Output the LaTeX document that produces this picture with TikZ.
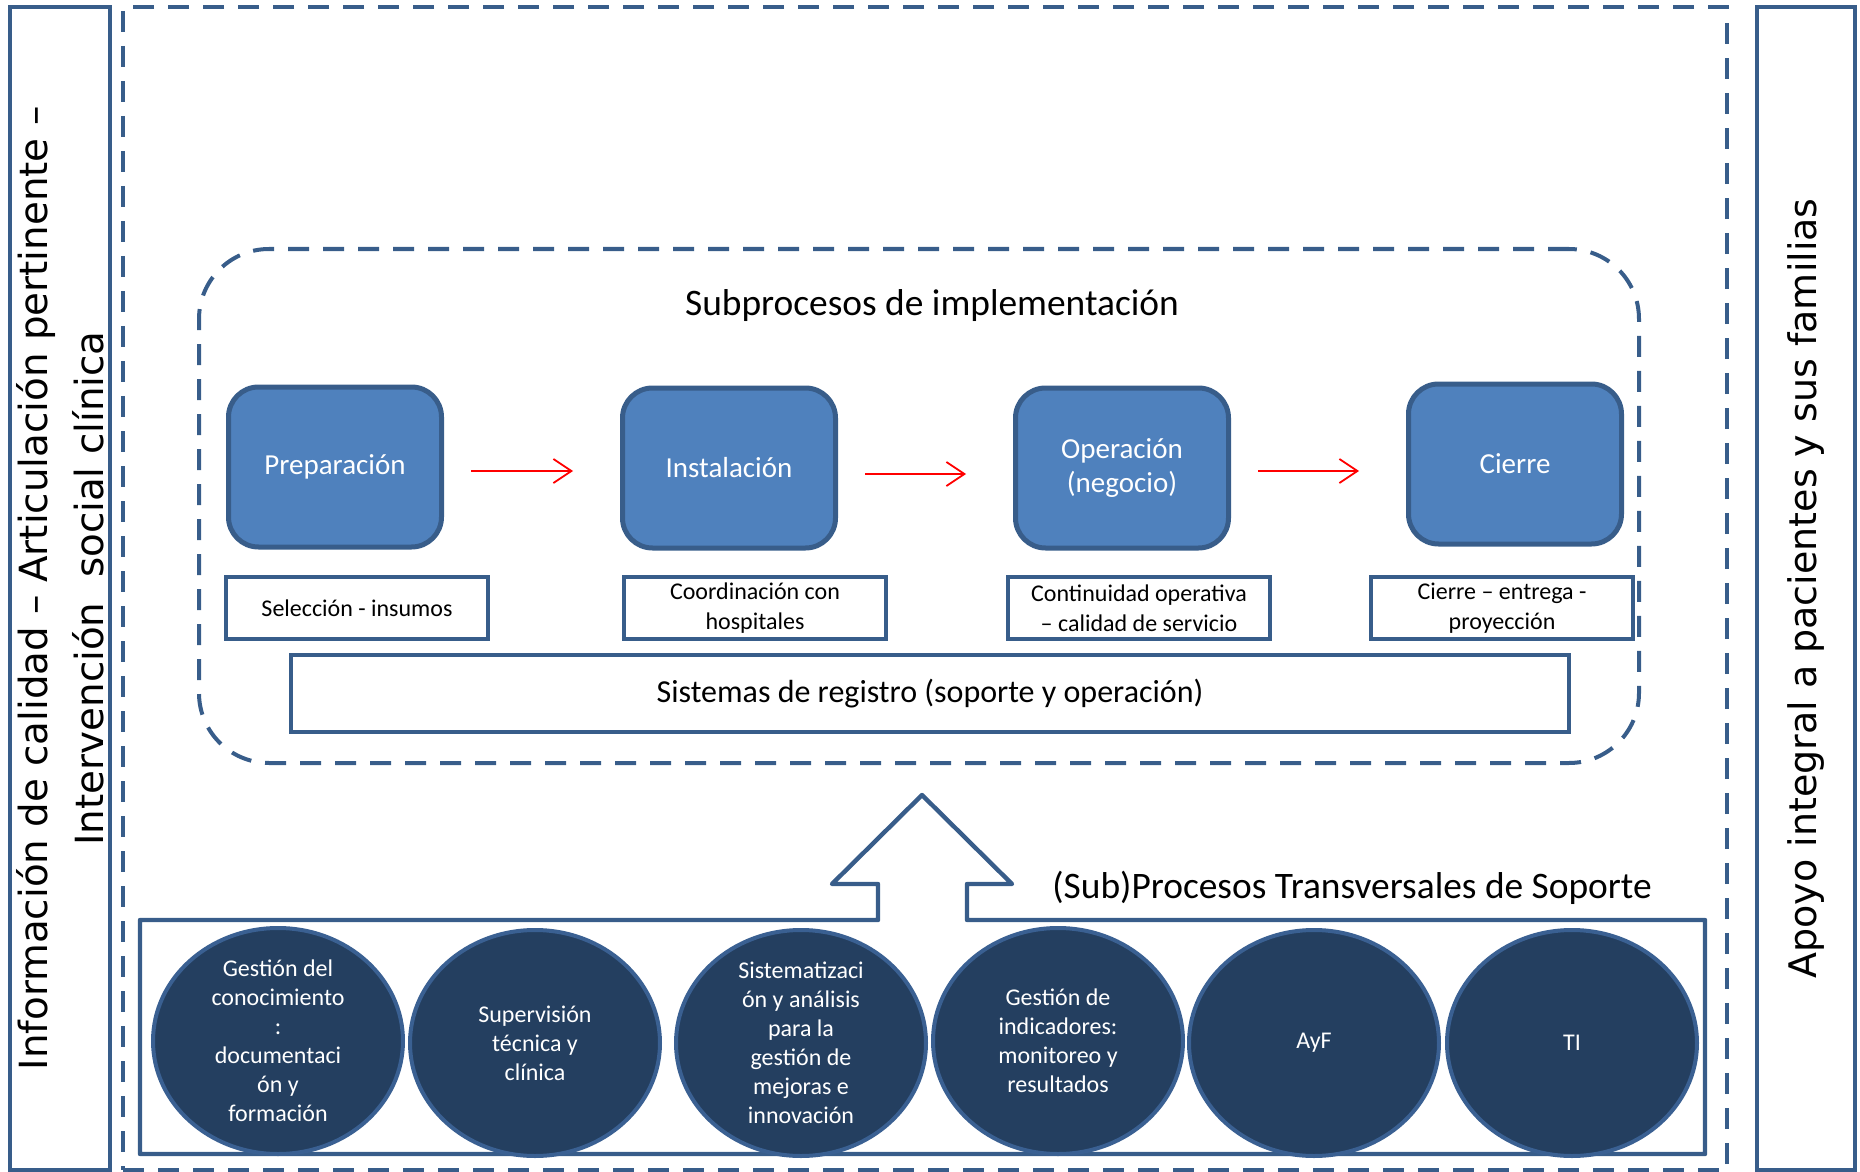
\documentclass[tikz,border=0pt]{standalone}
\usepackage{fontspec}
\setmainfont{Carlito}
\newfontfamily\sidefont{DejaVu Sans}
\usetikzlibrary{arrows.meta,shapes.geometric}
\definecolor{frameblue}{HTML}{385D8A}
\definecolor{procfill}{HTML}{4F81BD}
\definecolor{circfill}{HTML}{243F60}
\definecolor{circline}{HTML}{3A6092}
\begin{document}
\begin{tikzpicture}[x=0.5pt,y=-0.5pt,
  sidebox/.style={draw=frameblue, line width=2.2pt, rotate=90, minimum width=581.5pt, minimum height=50pt, inner sep=0pt, align=center, font=\sidefont\fontsize{19.4}{28}\selectfont},
  dashframe/.style={draw=frameblue, line width=2pt, dash pattern=on 10.5pt off 7pt, inner sep=0pt},
  procbox/.style={draw=frameblue, fill=procfill, line width=2.5pt, rounded corners=15pt, minimum width=106.5pt, minimum height=80pt, text=white, align=center, font=\fontsize{14.5}{17}\selectfont},
  descbox/.style={draw=frameblue, line width=2.2pt, minimum width=131pt, minimum height=31pt, inner sep=0pt, align=center, font=\fontsize{12}{15}\selectfont},
  circ/.style={ellipse, draw=circline, fill=circfill, line width=2pt, minimum width=125pt, minimum height=113pt, inner sep=0pt},
  circtext/.style={text=white, align=center, inner sep=0pt, font=\fontsize{12}{14.5}\selectfont},
  flow/.style={red, line width=0.9pt, -{Straight Barb[length=9pt,width=12pt]}, shorten <=13.5pt, shorten >=23.5pt}
]
\useasboundingbox (0,0) rectangle (1860,1172);

% side boxes
\node[sidebox] (left) at (60,588.5) {Información de calidad – Articulación pertinente –\\Intervención\ \ social clínica};
\node[sidebox, minimum height=49pt, font=\sidefont\fontsize{19}{28}\selectfont] (right) at (1806,588.5) {Apoyo integral a pacientes y sus familias};

% outer dashed frame
\node[dashframe, minimum width=802pt, minimum height=581.5pt] (outer) at (925,588.5) {};

% group of implementation subprocesses
\node[dashframe, rounded corners=35pt, minimum width=720pt, minimum height=257pt] (grp) at (919,506) {};
\node[font=\fontsize{18.7}{22}\selectfont] (title) at (932,306) {Subprocesos de implementación};

% process boxes
\node[procbox] (prep) at (335,467) {Preparación};
\node[procbox] (inst) at (729,468) {Instalación};
\node[procbox] (oper) at (1122,468) {Operación\\(negocio)};
\node[procbox] (cier) at (1515,464) {Cierre};

\draw[flow] ([yshift=-2pt]prep.east) -- ([yshift=-2pt]prep.east -| inst.west);
\draw[flow] ([yshift=-3pt]inst.east) -- ([yshift=-3pt]inst.east -| oper.west);
\draw[flow] ([yshift=-1.5pt]oper.east) -- ([yshift=-1.5pt]oper.east -| cier.west);

% description boxes
\node[descbox] (d1) at (357,608) {Selección - insumos};
\node[descbox] (d2) at (755,608) {Coordinación con\\hospitales};
\node[descbox] (d3) at (1139,608) {Continuidad operativa\\– calidad de servicio};
\node[descbox] (d4) at (1502,608) {Cierre – entrega -\\proyección};

\node[descbox, minimum width=639pt, minimum height=38.5pt, font=\fontsize{16}{19}\selectfont] (reg) at (930,693.5) {Sistemas de registro (soporte y operación)};

% support block with up arrow
\draw[frameblue, line width=2.2pt, line join=round]
  (878,920) -- (140,920) -- (140,1154) -- (1705,1154) -- (1705,920) -- (967,920)
  -- (967,884) -- (1012,884) -- (922,795) -- (832,884) -- (878,884) -- cycle;
\node[anchor=west, inner sep=0pt, font=\fontsize{18.7}{22}\selectfont] (sup) at (1052,888) {(Sub)Procesos Transversales de Soporte};

% support circles
\node[circ] (c1) at (278,1041) {};
\node[circ] (c2) at (535,1043) {};
\node[circ] (c3) at (801,1043) {};
\node[circ] (c4) at (1058,1041) {};
\node[circ] (c5) at (1314,1043) {};
\node[circ] (c6) at (1572,1043) {};
\node[circtext] (t1) at (c1) {Gestión del\\conocimiento\\:\\documentaci\\ón y\\formación};
\node[circtext] (t2) at (c2) {Supervisión\\técnica y\\clínica};
\node[circtext] (t3) at (c3) {Sistematizaci\\ón y análisis\\para la\\gestión de\\mejoras e\\innovación};
\node[circtext] (t4) at (c4) {Gestión de\\indicadores:\\monitoreo y\\resultados};
\node[circtext] (t5) at (c5) {AyF};
\node[circtext] (t6) at (c6) {TI};
\end{tikzpicture}
\end{document}
